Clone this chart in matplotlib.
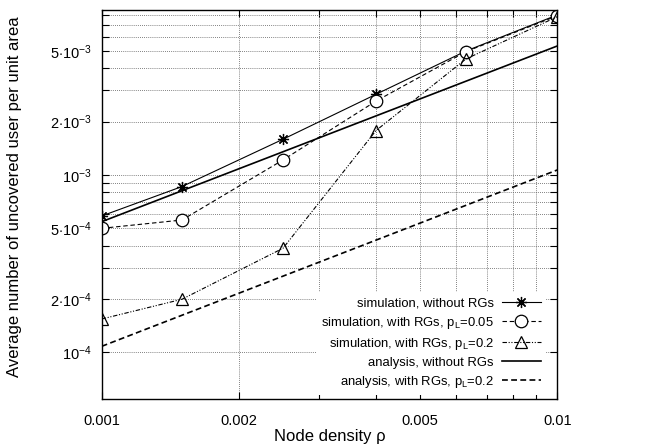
import matplotlib
matplotlib.use("Agg")
import matplotlib.pyplot as plt
from matplotlib.ticker import FixedLocator, FixedFormatter, NullFormatter

plt.rcParams['font.family'] = ['Liberation Sans', 'DejaVu Sans']
plt.rcParams['mathtext.fontset'] = 'custom'
plt.rcParams['mathtext.rm'] = 'Liberation Sans'
plt.rcParams['mathtext.it'] = 'Liberation Sans:italic'

# ---- data ----
density = [0.001, 0.0015, 0.0025, 0.004, 0.0063, 0.01]
sim_no_rg = [5.87e-4, 8.6e-4, 1.59e-3, 2.85e-3, 5.0e-3, 7.99e-3]
sim_rg_005 = [5.0e-4, 5.57e-4, 1.215e-3, 2.61e-3, 4.96e-3, 7.91e-3]
sim_rg_02 = [1.54e-4, 1.99e-4, 3.86e-4, 1.78e-3, 4.51e-3, 7.81e-3]
ana_density = [0.001, 0.01]
ana_no_rg = [5.45e-4, 5.34e-3]
ana_rg_02 = [1.08e-4, 1.067e-3]

labels = ["simulation, without RGs",
          r"simulation, with RGs, p$_\mathregular{L}$=0.05",
          r"simulation, with RGs, p$_\mathregular{L}$=0.2",
          "analysis, without RGs",
          r"analysis, with RGs, p$_\mathregular{L}$=0.2"]

xticks_major = [0.001, 0.002, 0.005, 0.01]
xtick_labels = ["0.001", "0.002", "0.005", "0.01"]
xticks_minor = [0.003, 0.004, 0.006, 0.007, 0.008, 0.009]
yticks_major = [1e-4, 2e-4, 5e-4, 1e-3, 2e-3, 5e-3]
ytick_labels = [r"$10^{-4}$", r"$2{\cdot}10^{-4}$", r"$5{\cdot}10^{-4}$",
                r"$10^{-3}$", r"$2{\cdot}10^{-3}$", r"$5{\cdot}10^{-3}$"]
yticks_minor = [3e-4, 4e-4, 6e-4, 7e-4, 8e-4, 9e-4,
                3e-3, 4e-3, 6e-3, 7e-3, 8e-3, 9e-3]

fig = plt.figure(figsize=(6.54, 4.47), dpi=100)
ax = fig.add_axes([101.7/654, 1 - 398.7/447, (557.3-101.7)/654, (398.7-10)/447])
ax.set_xscale('log')
ax.set_yscale('log')
ax.set_xlim(0.001, 0.01)
ax.set_ylim(5.47e-5, 8.52e-3)

ax.plot(density, sim_no_rg, color='black', lw=0.8, marker=(8, 2, 0), ms=8,
        mew=0.9, label=labels[0])
ax.plot(density, sim_rg_005, color='black', lw=0.8, dashes=(4, 2.5), marker='o',
        ms=9, mfc='white', mew=0.9, label=labels[1])
ax.plot(density, sim_rg_02, color='black', lw=0.8, dashes=(4, 1.5, 1, 1.5, 1, 1.5),
        marker='^', ms=9, mfc='none', mew=0.9, label=labels[2])
ax.plot(ana_density, ana_no_rg, color='black', lw=1.2, label=labels[3])
ax.plot(ana_density, ana_rg_02, color='black', lw=1.2, dashes=(3.5, 2), label=labels[4])

ax.xaxis.set_major_locator(FixedLocator(xticks_major))
ax.xaxis.set_major_formatter(FixedFormatter(xtick_labels))
ax.xaxis.set_minor_locator(FixedLocator(xticks_minor))
ax.xaxis.set_minor_formatter(NullFormatter())
ax.yaxis.set_major_locator(FixedLocator(yticks_major))
ax.yaxis.set_major_formatter(FixedFormatter(ytick_labels))
ax.yaxis.set_minor_locator(FixedLocator(yticks_minor))
ax.yaxis.set_minor_formatter(NullFormatter())

ax.tick_params(which='both', direction='in', top=True, right=True, length=5, width=0.8,
               labelsize=10.5)
ax.tick_params(axis='y', which='both', pad=7)
ax.tick_params(axis='x', which='both', pad=11)
ax.grid(True, which='both', linestyle=(0, (1, 1.5)), color='0.35', lw=0.6)
ax.set_axisbelow(True)
for s in ax.spines.values():
    s.set_linewidth(1.0)

ax.set_xlabel("Node density ρ", fontsize=12, va='top')
ax.xaxis.set_label_coords(0.5, -0.078)
ax.set_ylabel("Average number of uncovered user per unit area", fontsize=12)
ax.yaxis.set_label_coords(-0.175, 0.519)

leg = ax.legend(loc='lower right', bbox_to_anchor=(0.99, -0.008), markerfirst=False,
                fontsize=9.4, frameon=True, fancybox=False, framealpha=1,
                edgecolor='none', facecolor='white', handlelength=3.0,
                labelspacing=0.39, borderpad=0.4, handletextpad=0.6)

fig.savefig("out.png", dpi=100)
